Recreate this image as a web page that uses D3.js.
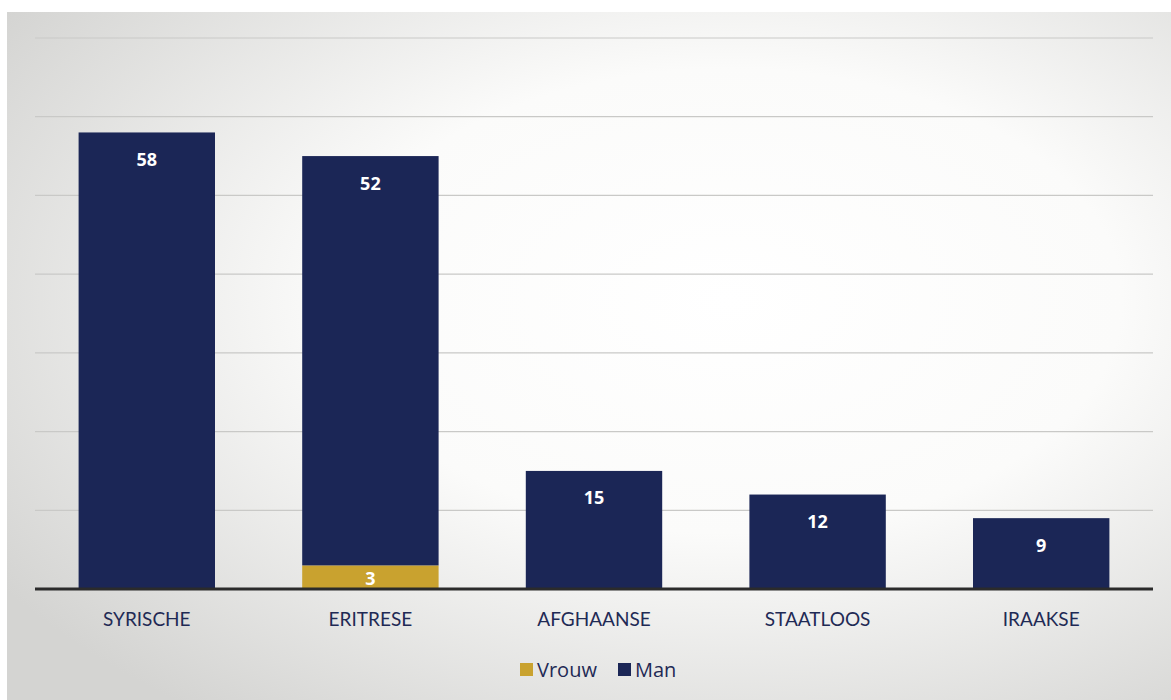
<!DOCTYPE html>
<html><head><meta charset="utf-8">
<script src="https://cdn.jsdelivr.net/npm/d3@7"></script>
<style>body{margin:0;background:#fff;}svg{display:block;}</style>
</head><body>
<svg id="c" width="1171" height="700"></svg>
<script>
const categories = ["SYRISCHE","ERITRESE","AFGHAANSE","STAATLOOS","IRAAKSE"];
const vrouw = [0,3,0,0,0];
const man = [58,52,15,12,9];
const seriesNames = ["Vrouw","Man"];
const yTicks = [0,10,20,30,40,50,60,70];

const W=1171,H=700;
const svg=d3.select("#c");
const defs=svg.append("defs");
const g1=defs.append("radialGradient").attr("id","bg").attr("cx","0.62").attr("cy","0.42").attr("r","0.75");
g1.append("stop").attr("offset","0").attr("stop-color","#ffffff");
g1.append("stop").attr("offset","0.45").attr("stop-color","#fbfbfa");
g1.append("stop").attr("offset","1").attr("stop-color","#d4d4d2");
svg.append("rect").attr("width",W).attr("height",H).attr("fill","#fff");
svg.append("rect").attr("x",7).attr("y",12).attr("width",W-7).attr("height",H-12).attr("fill","url(#bg)");

const colors={Vrouw:"#c9a22f",Man:"#1b2656"};
const x=d3.scaleBand().domain(categories).range([35,1153]).paddingInner(0.39).paddingOuter(0.195);
const y=d3.scaleLinear().domain([0,70]).range([589,38]);

svg.append("g").selectAll("line").data(yTicks.filter(d=>d>0)).join("line")
  .attr("x1",35).attr("x2",1153).attr("y1",d=>y(d)).attr("y2",d=>y(d))
  .attr("stroke","#c9c9c7").attr("stroke-width",1.2);

const data=categories.map((c,i)=>({cat:c,Vrouw:vrouw[i],Man:man[i]}));
const stack=d3.stack().keys(seriesNames)(data);
const font="'Open Sans', Lato, sans-serif";
const catFont="Lato, 'Open Sans', sans-serif";
stack.forEach(s=>{
  const key=s.key;
  svg.append("g").selectAll("rect").data(s.filter(d=>d[1]-d[0]>0)).join("rect")
    .attr("x",d=>x(d.data.cat)).attr("width",x.bandwidth())
    .attr("y",d=>y(d[1])).attr("height",d=>y(d[0])-y(d[1]))
    .attr("fill",colors[key]);
  svg.append("g").selectAll("text").data(s.filter(d=>d[1]-d[0]>0)).join("text")
    .attr("x",d=>x(d.data.cat)+x.bandwidth()/2)
    .attr("y",d=> key==="Man" ? y(d[1])+27 : (y(d[0])+y(d[1]))/2+1)
    .attr("dy","0.36em").attr("text-anchor","middle")
    .attr("fill","#fff").attr("font-family",font).attr("font-weight","bold").attr("font-size",18)
    .text(d=>d[1]-d[0]);
});

svg.append("line").attr("x1",35).attr("x2",1153).attr("y1",y(0)).attr("y2",y(0))
  .attr("stroke","#2b2b2b").attr("stroke-width",3);

const xAxis=svg.append("g").attr("transform",`translate(0,${y(0)})`).call(d3.axisBottom(x).tickSize(0).tickPadding(24));
xAxis.select(".domain").remove();
xAxis.selectAll("text").attr("font-family",catFont).attr("font-size",19).attr("fill","#1f2a55");

const leg=svg.append("g");
const items=[{n:"Vrouw",x:520},{n:"Man",x:618}];
items.forEach(it=>{
  leg.append("rect").attr("x",it.x).attr("y",663).attr("width",13).attr("height",13).attr("fill",colors[it.n]);
  leg.append("text").attr("x",it.x+17).attr("y",670).attr("dy","0.36em").attr("font-family",font).attr("font-size",20).attr("fill","#1f2a55").text(it.n);
});
</script>
</body></html>
